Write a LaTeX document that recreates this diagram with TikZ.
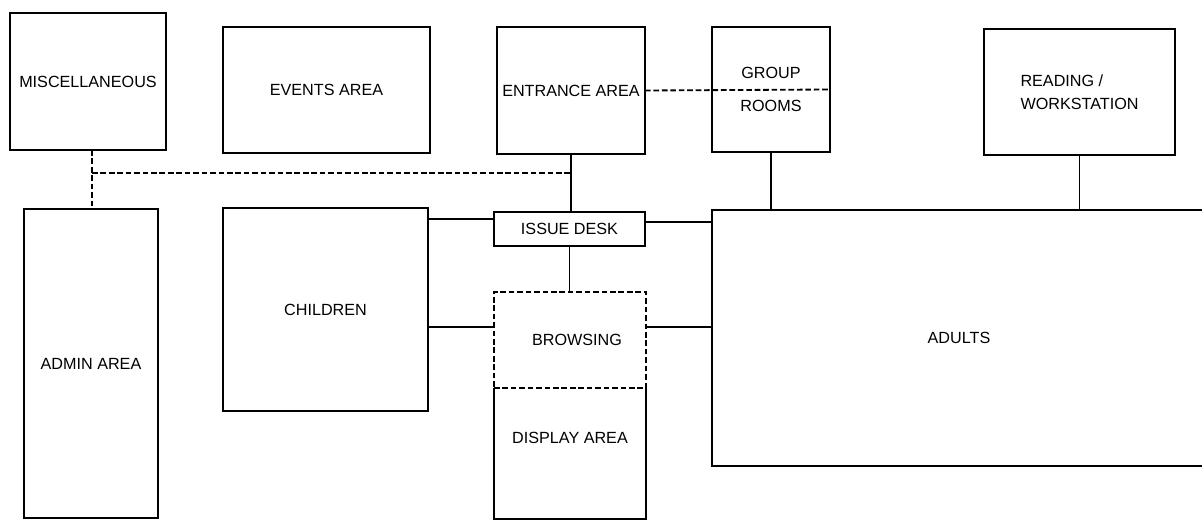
\documentclass[tikz,border=0pt]{standalone}
\usepackage{fontspec}
\setmainfont{Liberation Sans}
\usetikzlibrary{positioning,calc}

\begin{document}
\begin{tikzpicture}[x=0.025cm, y=-0.025cm, line width=1.3pt,
    room/.style={rectangle, draw, inner sep=2pt, outer sep=0pt, align=center, font=\fontsize{11.5}{14}\selectfont},
    lbl/.style={inner sep=1pt, font=\fontsize{11.5}{14}\selectfont},
    dashline/.style={dash pattern=on 4pt off 2pt}]
        \useasboundingbox (0,0) rectangle (1202,520);

        \node[room, minimum width=3.9cm, minimum height=3.425cm] (misc) at (88,81.5) {MISCELLANEOUS};
        \node[room, minimum width=5.175cm, minimum height=3.15cm] (events) at (326.5,90) {EVENTS AREA};
        \node[room, minimum width=3.7cm, minimum height=3.175cm] (entrance) at (571,90.5) {ENTRANCE AREA};
        \node[room, minimum width=2.95cm, minimum height=3.125cm] (group) at (771,89.5) {GROUP\\[9pt]ROOMS};
        \node[room, minimum width=4.775cm, minimum height=3.15cm, align=left] (reading) at (1079.5,92) {READING /\\[2pt]WORKSTATION};

        \node[room, minimum width=3.35cm, minimum height=7.725cm] (admin) at (91,363.5) {ADMIN AREA};
        \node[room, minimum width=5.125cm, minimum height=5.075cm] (children) at (325.5,309.5) {CHILDREN};
        \node[room, minimum width=3.775cm, minimum height=0.85cm] (issue) at (569.5,229) {ISSUE DESK};
        \node[room, dashline, minimum width=3.8cm, minimum height=2.4cm] (browsing) at (570,340) {\hspace{0.35cm}BROWSING};
        \node[inner sep=0pt, outer sep=0pt, minimum width=3.8cm, minimum height=3.275cm, below=0pt of browsing] (display) {};
        \node[lbl] (displaylbl) at ([yshift=0.4cm]display.center) {DISPLAY AREA};
        \node[room, minimum width=12.35cm, minimum height=6.4cm] (adults) at (959,338) {ADULTS};

        \draw (display.north west) -- (display.south west) -- (display.south east) -- (display.north east);

        \draw (entrance.south) -- (entrance.south |- issue.north);
        \draw (issue.south) -- (issue.south |- browsing.north);
        \draw ([yshift=0.25cm]issue.west) -- ([yshift=0.25cm]issue.west -| children.east);
        \draw ([yshift=0.175cm]issue.east) -- ([yshift=0.175cm]issue.east -| adults.west);
        \draw ([yshift=0.325cm]browsing.west) -- ([yshift=0.325cm]browsing.west -| children.east);
        \draw ([yshift=0.325cm]browsing.east) -- ([yshift=0.325cm]browsing.east -| adults.west);
        \draw (group.south) -- (group.south |- adults.north);
        \draw (reading.south) -- (reading.south |- adults.north);

        \draw[dashline] (entrance.east) -- (group.east);
        \coordinate (jn) at (92,173);
        \draw[dashline] (misc.south -| jn) -- (admin.north -| jn);
        \draw[dashline] (jn) -- (jn -| entrance.south);
    \end{tikzpicture}
\end{document}
